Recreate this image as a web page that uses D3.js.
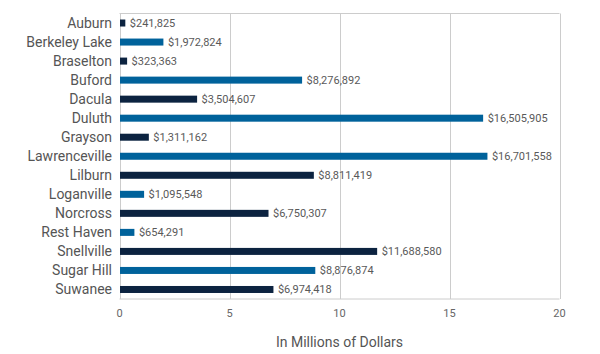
<!DOCTYPE html>
<html>
<head>
<meta charset="utf-8">
<script src="https://cdn.jsdelivr.net/npm/d3@7"></script>
<style>
  html, body { margin: 0; padding: 0; background: #fff; }
  svg { display: block; font-family: Roboto, "Noto Sans", sans-serif; }
</style>
</head>
<body>
<svg id="chart" width="600" height="354"></svg>
<script>
const categories = ["Auburn", "Berkeley Lake", "Braselton", "Buford", "Dacula", "Duluth", "Grayson",
  "Lawrenceville", "Lilburn", "Loganville", "Norcross", "Rest Haven", "Snellville", "Sugar Hill", "Suwanee"];
const values = [241825, 1972824, 323363, 8276892, 3504607, 16505905, 1311162,
  16701558, 8811419, 1095548, 6750307, 654291, 11688580, 8876874, 6974418];
const xTicks = [0, 5, 10, 15, 20];
const axisTitle = "In Millions of Dollars";
const colors = ["#0c2340", "#00629b"];

const svg = d3.select("#chart");
const margin = { left: 119.5, right: 40.5, top: 13.5, bottom: 55 };
const W = 600, H = 354;
const x = d3.scaleLinear().domain([0, 20]).range([margin.left, W - margin.right]);
const y = d3.scaleBand().domain(categories).range([margin.top, H - margin.bottom]).paddingInner(0).paddingOuter(0);
const barH = 7;

// gridlines
svg.append("g").selectAll("line").data(xTicks).join("line")
  .attr("x1", d => Math.round(x(d)) + 0.5).attr("x2", d => Math.round(x(d)) + 0.5)
  .attr("y1", margin.top).attr("y2", H - margin.bottom)
  .attr("stroke", "#cccccc").attr("stroke-width", 1);
// top and bottom border
svg.append("line").attr("x1", x(0)).attr("x2", x(20)).attr("y1", margin.top).attr("y2", margin.top)
  .attr("stroke", "#cccccc");
svg.append("line").attr("x1", x(0)).attr("x2", x(20)).attr("y1", H - margin.bottom).attr("y2", H - margin.bottom)
  .attr("stroke", "#cccccc");

// bars
svg.append("g").selectAll("rect").data(categories).join("rect")
  .attr("x", x(0) + 0.5)
  .attr("y", d => y(d) + y.bandwidth() / 2 - barH / 2)
  .attr("width", (d, i) => x(values[i] / 1e6) - x(0))
  .attr("height", barH)
  .attr("fill", (d, i) => colors[i % 2]);

// value labels
const fmt = d3.format(",");
svg.append("g").selectAll("text").data(categories).join("text")
  .attr("x", (d, i) => x(values[i] / 1e6) + 5)
  .attr("y", d => y(d) + y.bandwidth() / 2)
  .attr("dy", "0.35em")
  .attr("font-size", 11).attr("fill", "#595959")
  .text((d, i) => "$" + fmt(values[i]));

// category labels
svg.append("g").selectAll("text").data(categories).join("text")
  .attr("x", 112)
  .attr("y", d => y(d) + y.bandwidth() / 2)
  .attr("dy", "0.35em")
  .attr("text-anchor", "end")
  .attr("font-size", 14).attr("fill", "#555555")
  .text(d => d);

// x axis tick labels
svg.append("g").selectAll("text").data(xTicks).join("text")
  .attr("x", d => x(d))
  .attr("y", 317)
  .attr("text-anchor", "middle")
  .attr("font-size", 11).attr("fill", "#666666")
  .text(d => d);

// axis title
svg.append("text")
  .attr("x", (x(0) + x(20)) / 2)
  .attr("y", 347)
  .attr("text-anchor", "middle")
  .attr("font-size", 14).attr("fill", "#555555")
  .text(axisTitle);
</script>
</body>
</html>
